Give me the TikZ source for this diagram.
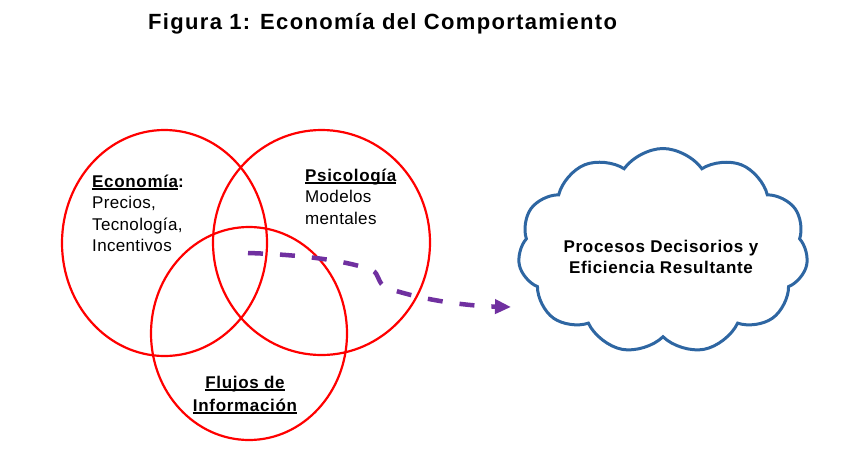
\documentclass[tikz,border=0pt]{standalone}
\usepackage{fontspec}
\setmainfont{Liberation Sans}[LetterSpace=2]
\usetikzlibrary{positioning,shapes.geometric,shapes.symbols,arrows.meta}
\definecolor{rojo}{RGB}{255,0,0}
\definecolor{morado}{RGB}{112,48,160}
\definecolor{azulnube}{RGB}{46,102,162}
\newcommand{\subr}[1]{\leavevmode\setbox0=\hbox{#1}\rlap{\rule[-2.5pt]{\wd0}{1.4pt}}\box0}
\newcommand{\negr}[1]{{\bfseries\addfontfeatures{LetterSpace=4}#1}}

\begin{document}
\begin{tikzpicture}[x=1pt, y=-1pt,
    conjunto/.style={ellipse, draw=rojo, line width=2.2pt, inner sep=0pt},
    texto/.style={inner sep=0pt, font=\fontsize{17}{21.5}\selectfont},
    flecha/.style={draw=morado, line width=4.5pt, dash pattern=on 15pt off 17pt, -{Triangle[length=16pt,width=14pt]}}]

      \useasboundingbox (0,0) rectangle (867,466);

      \node [inner sep=0pt, anchor=base west, font=\fontsize{22}{26}\selectfont\bfseries\addfontfeatures{LetterSpace=6}] at (148,29.5) (titulo) {Figura 1: Economía del Comportamiento};

      \node [conjunto, minimum width=205pt, minimum height=226pt] at (164.5,243) (economia) {};
      \node [conjunto, minimum width=217pt, minimum height=225pt] at (321.5,242.5) (psicologia) {};
      \node [conjunto, minimum width=196pt, minimum height=213pt] at (249,333.5) (flujos) {};

      \node [texto, anchor=base west] at (92,187) (txteco) {\parbox[t]{130pt}{\raggedright\negr{\subr{Economía}:}\\Precios,\\Tecnología,\\Incentivos}};
      \node [texto, anchor=base west] at (305,181) (txtpsi) {\parbox[t]{120pt}{\raggedright\negr{\subr{Psicología}}\\Modelos\\mentales}};
      \node [texto, anchor=base] at (245,388) (txtflu) {\parbox[t]{150pt}{\centering\negr{\subr{Flujos de}}\\[1.5pt]\negr{\subr{Información}}}};

      % nube de procesos
      \node [cloud, draw=azulnube, line width=3pt, cloud puffs=11, cloud puff arc=110, aspect=1.4, minimum width=290pt, minimum height=205pt] at (663,251) (nube) {};
      \node [texto, anchor=base] at (661,252) (txtnube) {\parbox[t]{220pt}{\centering\negr{Procesos Decisorios y}\\\negr{Eficiencia Resultante}}};

      \coordinate (inicio) at (248,253);
      \coordinate (punta) at (511,307);
      \draw [flecha] (inicio) .. controls (310,255) and (350,262) .. (372,270) .. controls (380,274) and (377,284) .. (387,288) .. controls (425,301) and (470,306) .. (punta);
    \end{tikzpicture}
\end{document}
